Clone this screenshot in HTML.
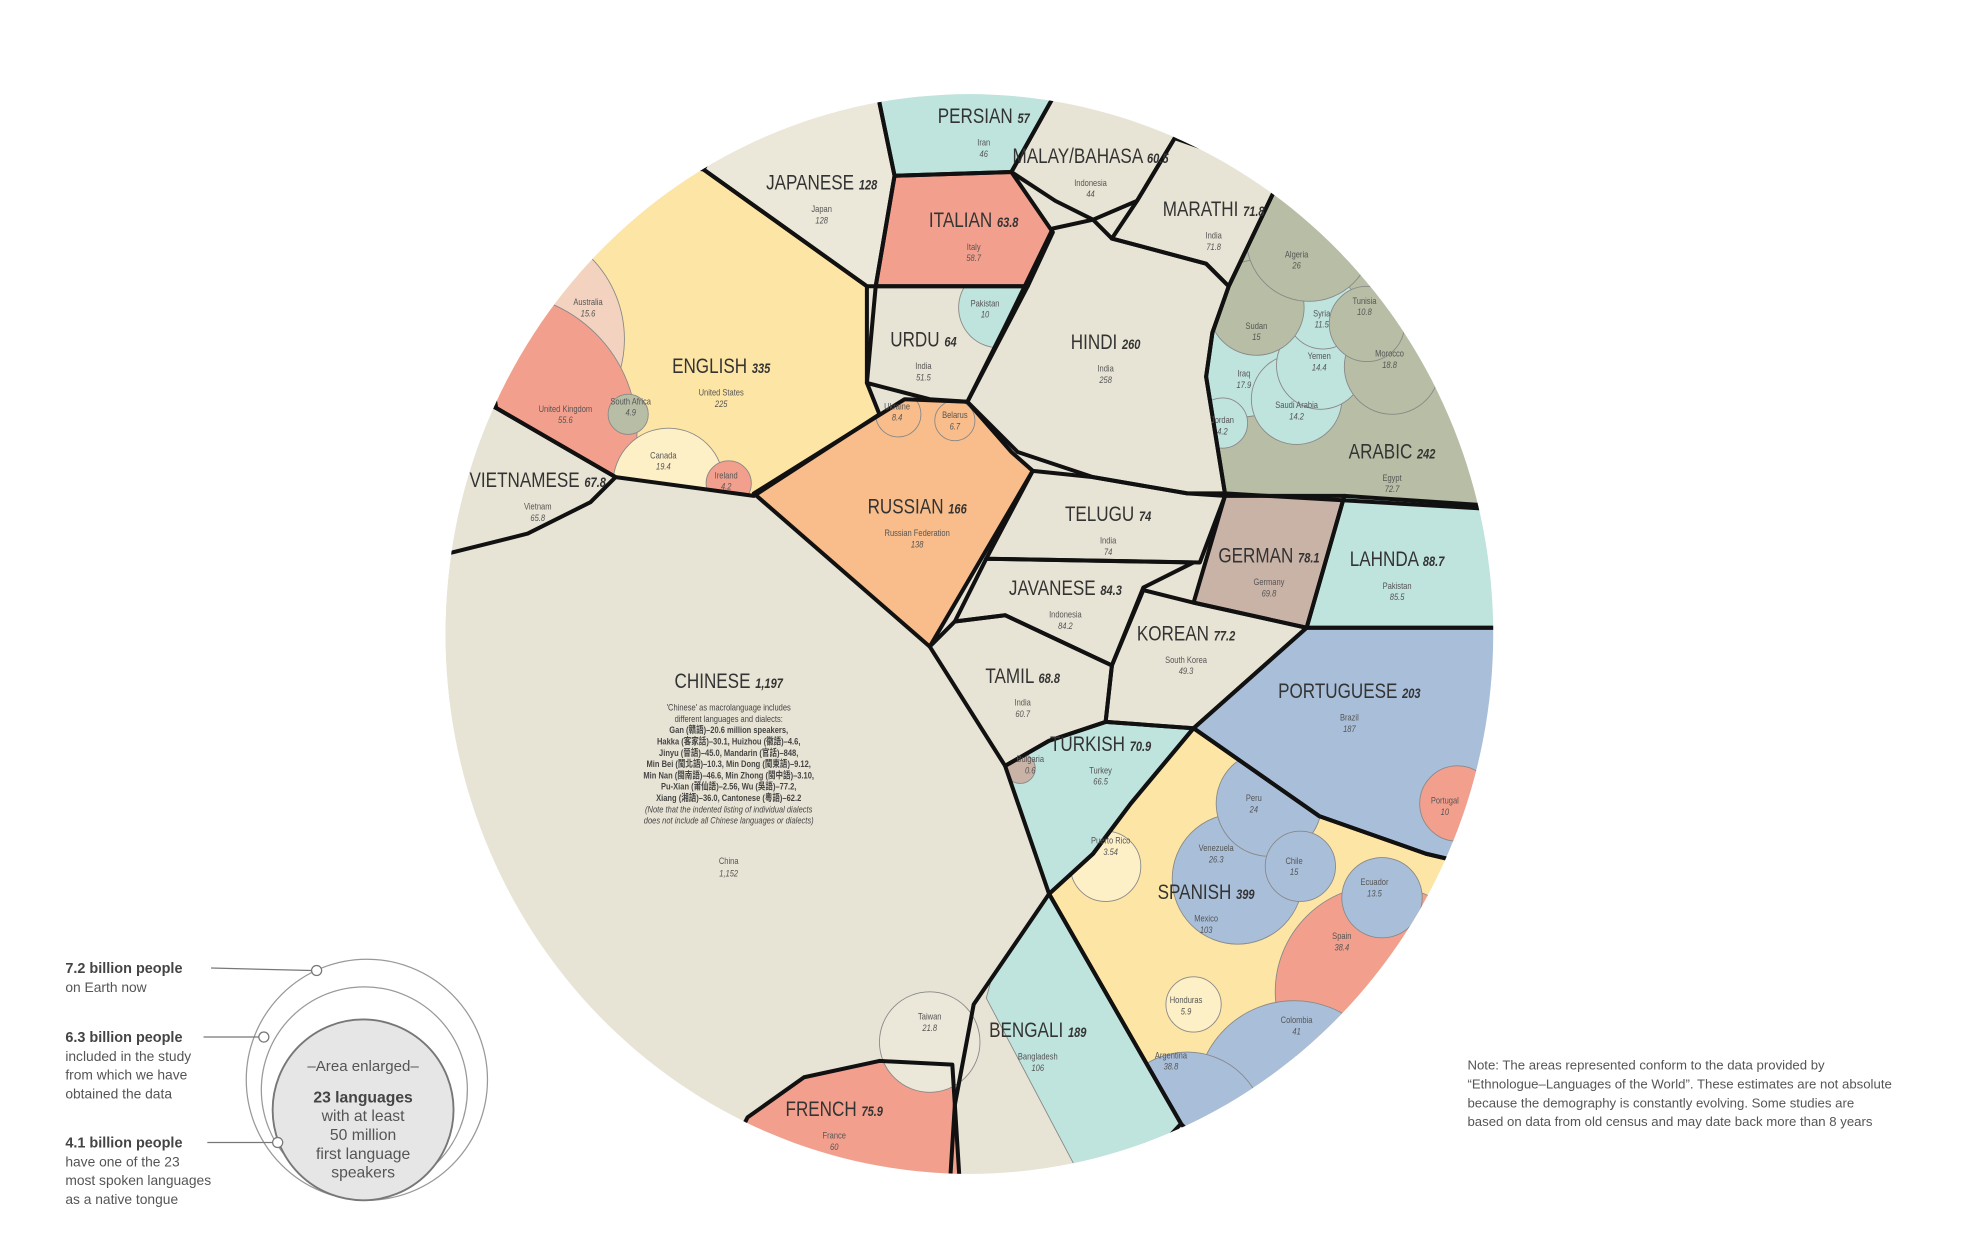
<!DOCTYPE html>
<html><head><meta charset="utf-8"><style>
html,body{margin:0;padding:0;background:#fff;width:1970px;height:1253px;overflow:hidden}
svg{display:block}
text{font-family:"Liberation Sans",sans-serif;fill:#333}
.big{font-size:17px}
.sm{font-size:7.5px;fill:#555}
.leg{font-family:"Liberation Sans",sans-serif;font-size:11px;fill:#555}
.legb{font-family:"Liberation Sans",sans-serif;font-size:11.5px;font-weight:bold;fill:#444}
</style></head><body>
<svg id="chart" width="1970" height="1253" viewBox="0 0 1568 998" preserveAspectRatio="none">
<defs id="defs"><clipPath id="cc"><ellipse cx="771.5" cy="505" rx="417" ry="430"/></clipPath></defs>
<g id="plot" clip-path="url(#cc)">
<ellipse cx="771.5" cy="505" rx="417" ry="430" fill="#e8e4d5"/>
</g>
<g id="labels"></g>
<g>
<circle cx="292" cy="860" r="96" fill="none" stroke="#999" stroke-width="1"/>
<circle cx="290" cy="868" r="82" fill="none" stroke="#999" stroke-width="1"/>
<circle cx="289" cy="884" r="72" fill="#e6e6e6" stroke="#777" stroke-width="1.5"/>
<circle cx="252" cy="773" r="4" fill="#fff" stroke="#777"/>
<circle cx="210" cy="826" r="4" fill="#fff" stroke="#777"/>
<circle cx="221" cy="910" r="4" fill="#fff" stroke="#777"/>
<line x1="168" y1="771" x2="248" y2="773" stroke="#777"/>
<line x1="162" y1="826" x2="206" y2="826" stroke="#777"/>
<line x1="165" y1="910" x2="217" y2="910" stroke="#777"/>
<text x="289" y="853" text-anchor="middle" class="leg" style="font-size:12px">–Area enlarged–</text>
<text x="289" y="878" text-anchor="middle" class="legb" style="font-size:12.5px">23 languages</text>
<text x="289" y="893" text-anchor="middle" class="leg" style="font-size:12.5px">with at least</text>
<text x="289" y="908" text-anchor="middle" class="leg" style="font-size:12.5px">50 million</text>
<text x="289" y="923" text-anchor="middle" class="leg" style="font-size:12.5px">first language</text>
<text x="289" y="938" text-anchor="middle" class="leg" style="font-size:12.5px">speakers</text>
<text x="52" y="775" class="legb">7.2 billion people</text>
<text x="52" y="790" class="leg">on Earth now</text>
<text x="52" y="830" class="legb">6.3 billion people</text>
<text x="52" y="845" class="leg">included in the study</text>
<text x="52" y="860" class="leg">from which we have</text>
<text x="52" y="875" class="leg">obtained the data</text>
<text x="52" y="914" class="legb">4.1 billion people</text>
<text x="52" y="929" class="leg">have one of the 23</text>
<text x="52" y="944" class="leg">most spoken languages</text>
<text x="52" y="959" class="leg">as a native tongue</text>
</g>
<g>
<text x="1168" y="852" class="leg" style="font-size:10.5px">Note: The areas represented conform to the data provided by</text>
<text x="1168" y="867" class="leg" style="font-size:10.5px">“Ethnologue–Languages of the World”. These estimates are not absolute</text>
<text x="1168" y="882" class="leg" style="font-size:10.5px">because the demography is constantly evolving. Some studies are</text>
<text x="1168" y="897" class="leg" style="font-size:10.5px">based on data from old census and may date back more than 8 years</text>
</g>
</svg>
<script>
const languages = ["CHINESE","SPANISH","ENGLISH","HINDI","ARABIC","PORTUGUESE","BENGALI","RUSSIAN","JAPANESE","LAHNDA","JAVANESE","GERMAN","KOREAN","FRENCH","TELUGU","MARATHI","TURKISH","URDU","TAMIL","VIETNAMESE","ITALIAN","MALAY/BAHASA","PERSIAN"];
const speakers = [1197,399,335,260,242,203,189,166,128,88.7,84.3,78.1,77.2,75.9,74,71.8,70.9,64,68.8,67.8,63.8,60.5,57];
const mainCountry = ["China","Mexico","United States","India","Egypt","Brazil","Bangladesh","Russian Federation","Japan","Pakistan","Indonesia","Germany","South Korea","France","India","India","Turkey","India","India","Vietnam","Italy","Indonesia","Iran"];
const mainCountryValue = [1152,103,225,258,72.7,187,106,138,128,85.5,84.2,69.8,49.3,60,74,71.8,66.5,51.5,60.7,65.8,58.7,44,46];
const colors = ["#e8e4d5","#fde5a5","#fde5a5","#e8e4d5","#b7bea5","#a9bfd9","#e8e4d5","#f8bd8a","#ebe7d9","#bfe3dd","#e8e4d5","#c9b2a6","#e8e4d5","#f2a08d","#e8e4d5","#e8e4d5","#bfe3dd","#e8e4d5","#e8e4d5","#e8e4d5","#f2a08d","#e8e4d5","#bfe3dd"];
// region geometry (layout, not data)
const shapes = [
 null,
 "835,712 870,680 900,640 950,580 1050,650 1135,680 1220,700 1000,960 940,895",
 "395,325 380,240 470,120 560,135 690,228 690,305 700,330 600,395 490,380",
 "838,182 870,175 885,190 960,210 978,228 965,265 960,300 975,393 945,393 870,380 810,360 770,320 800,260",
 "1020,140 1220,200 1220,405 1180,405 975,393 960,300 965,265 978,228",
 "1040,500 1220,500 1220,700 1135,680 1050,650 950,580",
 "835,712 940,895 880,960 755,960 760,880 775,800",
 "600,393 720,318 770,320 805,360 822,375 740,515",
 "560,135 600,60 700,60 700,82 712,140 697,228 690,228",
 "1070,395 1220,405 1220,500 1040,500",
 "785,445 950,448 910,468 885,530 800,490 760,495",
 "975,395 1070,395 1040,500 950,480",
 "885,530 910,470 950,480 1040,500 950,580 880,575",
 "595,890 640,858 700,845 758,848 765,960 560,960",
 "822,375 870,380 945,393 975,395 955,448 785,445",
 "935,110 1020,140 978,228 960,210 885,190 905,160",
 "800,610 835,590 880,575 950,580 900,640 870,680 835,712",
 "697,228 818,228 770,320 740,318 690,305",
 "760,495 800,490 885,530 880,575 835,590 800,610 740,515",
 "330,445 330,300 395,325 490,380 470,400 420,425 360,440",
 "712,140 805,137 838,185 818,228 697,228",
 "838,60 950,60 935,110 905,160 870,175 840,160 805,137 838,78",
 "700,60 840,60 838,78 805,137 712,140 700,82"
];
const labelPos = [[580,548],[960,716],[574,297],[880,278],[1108,365],[1074,556],[826,826],[730,409],[654,151],[1112,451],[848,474],[1010,448],[944,510],[664,889],[882,415],[966,172],[876,598],[735,276],[814,544],[428,388],[775,181],[868,130],[783,98]];
// sub-area bubbles
const bubbleLabels = ["Australia","United Kingdom","Canada","South Africa","Ireland","Spain","Colombia","Argentina","Venezuela","Peru","Ecuador","Chile","Iraq","Saudi Arabia","Yemen","Syria","Jordan","Sudan","Algeria","Morocco","Tunisia","Pakistan","Ukraine","Belarus","Portugal","Taiwan","Bulgaria","Puerto Rico","Honduras"];
const bubbleValues = [15.6,55.6,19.4,4.9,4.2,38.4,41,38.8,26.3,24,13.5,15,17.9,14.2,14.4,11.5,4.2,15,26,18.8,10.8,10,8.4,6.7,10,21.8,0.6,3.54,5.9];
// geometry: [cx, cy, r, color, parentIndex]
const bubbleGeom = [[405,270,92,"#f3d3c0",2],[395,345,112,"#f2a08d",2],[532,385,44,"#fef0c6",2],[500,330,16,"#b7bea5",2],[580,385,18,"#f2a08d",2],
 [1100,790,85,"#f2a08d",1],[1030,875,78,"#a9bfd9",1],[945,900,62,"#a9bfd9",1],[985,700,52,"#a9bfd9",1],[1010,640,42,"#a9bfd9",1],[1100,715,32,"#a9bfd9",1],[1035,690,28,"#a9bfd9",1],
 [990,292,40,"#bfe3dd",4],[1032,318,36,"#bfe3dd",4],[1051,291,35,"#bfe3dd",4],[1053,249,29,"#bfe3dd",4],[973,337,20,"#bfe3dd",4],[1000,245,38,"#b7bea5",4],[1042,190,50,"#b7bea5",4],[1108,292,38,"#b7bea5",4],[1088,258,30,"#b7bea5",4],
 [795,245,32,"#bfe3dd",17],[715,330,18,"#f8bd8a",7],[760,335,16,"#f8bd8a",7],[1160,640,30,"#f2a08d",5],[740,830,40,"#ebe7d9",0],[812,612,12,"#c9b2a6",16],[880,690,28,"#fef0c6",1],[950,800,22,"#fef0c6",1]];
const bubbleLabelPos=[[468,243],[450,328],[528,365],[502,322],[578,381],[1068,748],[1032,815],[932,843],[968,678],[998,638],[1094,705],[1030,688],[990,300],[1032,325],[1050,286],[1052,252],[973,337],[1000,262],[1032,205],[1106,284],[1086,242],[784,244],[714,326],[760,333],[1150,640],[740,812],[820,607],[884,672],[944,799]];

const NS="http://www.w3.org/2000/svg";
const plot=document.getElementById('plot');
const labels=document.getElementById('labels');
const defs=document.getElementById('defs');
function mk(tag,attrs,parent){const e=document.createElementNS(NS,tag);for(const k in attrs)e.setAttribute(k,attrs[k]);parent.appendChild(e);return e;}
function txt(x,y,cls,style,parent){return mk('text',{transform:'translate('+x+','+y+') scale(0.8,1)','text-anchor':'middle',class:cls,style:style||''},parent);}
const slug=s=>s.toLowerCase().replace(/[^a-z0-9]+/g,'-').replace(/-$/,'');
languages.forEach((l,i)=>{
  if(!shapes[i])return;
  const cp=mk('clipPath',{id:'cp'+i},defs);
  mk('polygon',{points:shapes[i]},cp);
  const p=mk('polygon',{points:shapes[i],fill:colors[i],stroke:'none'},plot);
  
  
});
bubbleGeom.forEach((b,i)=>{
  const parent=b[4];
  const g=mk('g',parent===0?{}:{'clip-path':'url(#cp'+parent+')'},plot);
  const c=mk('circle',{cx:b[0],cy:b[1],r:b[2],fill:b[3],stroke:'#888','stroke-width':0.7},g);
  
  
});
// Bangladesh part of Bengali
const bg=mk('g',{'clip-path':'url(#cp6)'},plot);
const bt=mk('polygon',{points:"835,712 940,895 900,960 872,960 785,795 800,740",fill:'#bfe3dd',stroke:'#888','stroke-width':0.7},bg);


languages.forEach((l,i)=>{
  if(!shapes[i])return;
  const p=mk('polygon',{points:shapes[i],fill:'none',stroke:'#111','stroke-width':3.2,'stroke-linejoin':'round'},plot);
  
  
});
languages.forEach((l,i)=>{
  const [x,y]=labelPos[i];
  const t=txt(x,y,'big','',labels);
  
  
  t.textContent=l+' ';
  const s=mk('tspan',{style:'font-size:11px;font-weight:bold;font-style:italic'},t);
  s.textContent=speakers[i].toLocaleString('en-US');
  const c=txt(x,y+(i===0?140:18),'sm','',labels);
  
  
  c.textContent=mainCountry[i];
  const v=txt(x,y+(i===0?150:27),'sm','font-style:italic',labels);
  
  
  v.textContent=mainCountryValue[i].toLocaleString('en-US');
});
bubbleGeom.forEach((b,i)=>{
  const [x,y]=bubbleLabelPos[i];
  const t=txt(x,y,'sm','',labels);
  
  
  t.textContent=bubbleLabels[i];
  const v=txt(x,y+9,'sm','font-style:italic',labels);
  
  
  v.textContent=bubbleValues[i];
});
const notes=["'Chinese' as macrolanguage includes","different languages and dialects:","Gan (贛語)–20.6 million speakers,","Hakka (客家話)–30.1, Huizhou (徽語)–4.6,","Jinyu (晉語)–45.0, Mandarin (官話)–848,","Min Bei (閩北語)–10.3, Min Dong (閩東語)–9.12,","Min Nan (閩南語)–46.6, Min Zhong (閩中語)–3.10,","Pu-Xian (莆仙語)–2.56, Wu (吳語)–77.2,","Xiang (湘語)–36.0, Cantonese (粵語)–62.2","(Note that the indented listing of individual dialects","does not include all Chinese languages or dialects)"];
notes.forEach((n,i)=>{
  const t=txt(580,566+i*9,'sm','font-family:"Liberation Sans","Noto Sans CJK TC",sans-serif;fill:#444'+(i>=2&&i<9?';font-weight:bold':'')+(i>=9?';font-style:italic':''),labels);
  
  
  t.textContent=n;
});
</script>
</body></html>
